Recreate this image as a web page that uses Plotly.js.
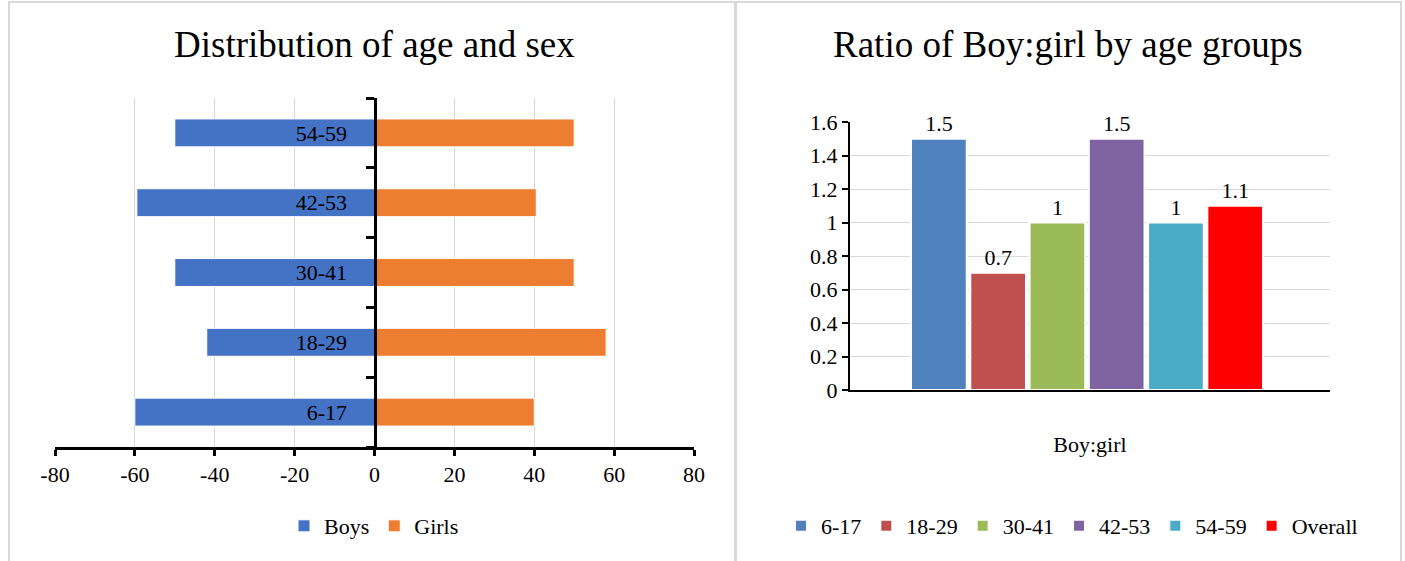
<!DOCTYPE html>
<html>
<head>
<meta charset="utf-8">
<script src="https://cdn.plot.ly/plotly-3.0.1.min.js"></script>
<style>html,body{margin:0;padding:0;background:#fff;}#chart{width:1405px;height:561px;}</style>
</head>
<body>
<div id="chart"></div>
<script>
// ---- Data: left chart (distribution of age and sex) ----
const ageGroups = ['6-17', '18-29', '30-41', '42-53', '54-59'];
const boys = [-60, -42, -50, -59.5, -50];
const girls = [40, 58, 50, 40.5, 50];
const xTicks = [-80, -60, -40, -20, 0, 20, 40, 60, 80];
const xTickText = ['-80', '-60', '-40', '-20', '0', '20', '40', '60', '80'];

// ---- Data: right chart (ratio boy:girl) ----
const ratioGroups = ['6-17', '18-29', '30-41', '42-53', '54-59', 'Overall'];
const ratioValues = [1.5, 0.7, 1, 1.5, 1, 1.1];
const ratioColors = ['#4F81BD', '#C0504D', '#9BBB59', '#8064A2', '#4BACC6', '#FF0000'];
const yTicks2 = [0, 0.2, 0.4, 0.6, 0.8, 1, 1.2, 1.4, 1.6];
const yTickText2 = ['0', '0.2', '0.4', '0.6', '0.8', '1', '1.2', '1.4', '1.6'];

const FONT = 'Liberation Serif, Times New Roman, serif';
const FS = 22;

const traces = [
  {
    type: 'bar', orientation: 'h', name: 'Boys', y: ageGroups, x: boys,
    width: 0.4, marker: {color: '#4472C4', line: {color: '#ffffff', width: 1}},
    xaxis: 'x', yaxis: 'y', legend: 'legend', hoverinfo: 'x+y'
  },
  {
    type: 'bar', orientation: 'h', name: 'Girls', y: ageGroups, x: girls,
    width: 0.4, marker: {color: '#ED7D31', line: {color: '#ffffff', width: 1}},
    xaxis: 'x', yaxis: 'y', legend: 'legend', hoverinfo: 'x+y'
  }
];

ratioGroups.forEach((g, i) => {
  traces.push({
    type: 'bar', name: g, x: [g], y: [ratioValues[i]],
    width: 0.94,
    marker: {color: ratioColors[i], line: {color: '#ffffff', width: 2}},
    text: [String(ratioValues[i])], textposition: 'outside',
    textfont: {family: FONT, size: FS, color: '#000'},
    cliponaxis: false,
    xaxis: 'x2', yaxis: 'y2', legend: 'legend2'
  });
});

const layout = {
  width: 1405, height: 561,
  margin: {l: 0, r: 0, t: 0, b: 0},
  paper_bgcolor: '#ffffff', plot_bgcolor: 'rgba(0,0,0,0)',
  barmode: 'overlay',
  font: {family: FONT, size: FS, color: '#000'},
  showlegend: true,
  xaxis: {
    domain: [55 / 1405, 694 / 1405], range: [-80, 80],
    tickvals: xTicks, ticktext: xTickText, showgrid: true, gridcolor: '#d9d9d9', gridwidth: 1,
    zeroline: false, showline: true, linecolor: '#000', linewidth: 3,
    ticks: 'outside', ticklen: 6, tickwidth: 3, tickcolor: '#000',
    tickfont: {family: FONT, size: FS, color: '#000'}, anchor: 'y', fixedrange: true
  },
  yaxis: {
    domain: [(561 - 447) / 561, (561 - 98) / 561],
    type: 'category', categoryarray: ageGroups, categoryorder: 'array',
    anchor: 'free', position: 374.5 / 1405,
    showgrid: false, zeroline: false, showline: true, linecolor: '#000', linewidth: 3,
    ticks: 'outside', tickson: 'boundaries', ticklen: 8, tickwidth: 3, tickcolor: '#000',
    ticklabelstandoff: 22,
    tickfont: {family: FONT, size: FS, color: '#000'}, fixedrange: true
  },
  xaxis2: {
    domain: [850 / 1405, 1330 / 1405], range: [-1.5, 6.6],
    type: 'category', categoryarray: ratioGroups, categoryorder: 'array',
    showticklabels: false, showgrid: false, zeroline: false,
    showline: true, linecolor: '#000', linewidth: 2, ticks: '',
    title: {text: 'Boy:girl', font: {family: FONT, size: FS, color: '#000'}, standoff: 46},
    anchor: 'y2', fixedrange: true
  },
  yaxis2: {
    domain: [(561 - 390) / 561, (561 - 122) / 561], range: [0, 1.6],
    tickvals: yTicks2, ticktext: yTickText2,
    showgrid: true, gridcolor: '#d9d9d9', gridwidth: 1, zeroline: false,
    showline: true, linecolor: '#000', linewidth: 2,
    ticks: 'outside', ticklen: 6, tickwidth: 2, tickcolor: '#000',
    tickfont: {family: FONT, size: FS, color: '#000'}, anchor: 'x2', fixedrange: true
  },
  legend: {
    orientation: 'h', x: 374 / 1405, xanchor: 'center', y: (561 - 526) / 561, yanchor: 'middle',
    font: {family: FONT, size: FS, color: '#000'}, itemwidth: 30, tracegroupgap: 0,
    bgcolor: 'rgba(0,0,0,0)'
  },
  legend2: {
    orientation: 'h', x: 1072 / 1405, xanchor: 'center', y: (561 - 526) / 561, yanchor: 'middle',
    font: {family: FONT, size: FS, color: '#000'}, itemwidth: 30,
    bgcolor: 'rgba(0,0,0,0)'
  },
  annotations: [
    {text: 'Distribution of age and sex', xref: 'paper', yref: 'paper', x: 374 / 1405, y: (561 - 45) / 561,
     xanchor: 'center', yanchor: 'middle', showarrow: false, font: {family: FONT, size: 37, color: '#000'}},
    {text: 'Ratio of Boy:girl by age groups', xref: 'paper', yref: 'paper', x: 1068 / 1405, y: (561 - 45) / 561,
     xanchor: 'center', yanchor: 'middle', showarrow: false, font: {family: FONT, size: 37, color: '#000'}}
  ],
  shapes: [
    {type: 'rect', xref: 'paper', yref: 'paper', x0: 9 / 1405, x1: 735 / 1405, y0: -0.02, y1: (561 - 2) / 561,
     line: {color: '#d9d9d9', width: 2}, layer: 'below'},
    {type: 'rect', xref: 'paper', yref: 'paper', x0: 736 / 1405, x1: 1401 / 1405, y0: -0.02, y1: (561 - 2) / 561,
     line: {color: '#d9d9d9', width: 2}, layer: 'below'}
  ]
};

Plotly.newPlot('chart', traces, layout, {displayModeBar: false, staticPlot: true});
</script>
</body>
</html>
